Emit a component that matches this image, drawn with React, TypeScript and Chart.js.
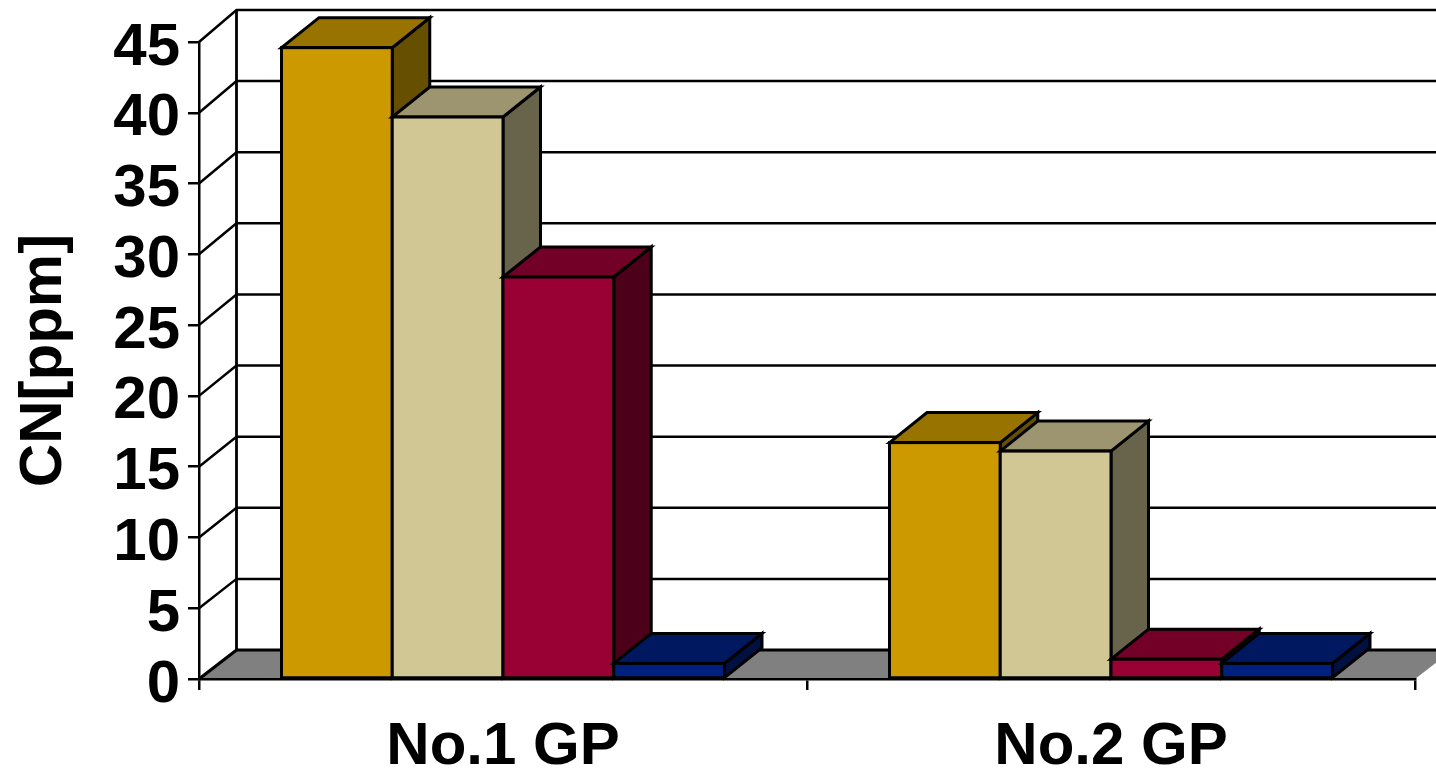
import React, { useEffect, useRef } from "react";
import { Chart, registerables } from "chart.js";

Chart.register(...registerables);

const categories = ["No.1 GP", "No.2 GP"];
const seriesA = [44.6, 16.7];
const seriesB = [39.7, 16.1];
const seriesC = [28.4, 1.4];
const seriesD = [1.1, 1.1];
const yTickStep = 5;
const yMax = 45;
const yTitle = "CN[ppm]";

const FONT = "'Liberation Sans', Arial, sans-serif";
const DX = 37.5;
const DY = 30;
const wallDy = (v: number) => 29 + (3 * v) / yMax;

const faces = [
  { front: "#CC9900", top: "#997300", side: "#665000" },
  { front: "#D0C795", top: "#9C9570", side: "#68634B" },
  { front: "#990033", top: "#730026", side: "#4D001A" },
  { front: "#002080", top: "#001860", side: "#001040" },
];

const depthPlugin = {
  id: "depth",
  beforeDraw(chart: any) {
    const { ctx, chartArea: a } = chart;
    const y = chart.scales.y;
    const x0 = a.left;
    const x1 = a.right;
    const y0 = y.getPixelForValue(0);
    ctx.save();
    ctx.fillStyle = "#808080";
    ctx.beginPath();
    ctx.moveTo(x0, y0);
    ctx.lineTo(x0 + DX, y0 - wallDy(0));
    ctx.lineTo(x1 + DX, y0 - wallDy(0));
    ctx.lineTo(x1, y0);
    ctx.closePath();
    ctx.fill();
    ctx.strokeStyle = "#000";
    for (let v = 0; v <= yMax; v += yTickStep) {
      const p = y.getPixelForValue(v);
      const py = p - wallDy(v);
      ctx.lineWidth = v === 0 ? 3.2 : 2.5;
      ctx.beginPath();
      ctx.moveTo(x0, p);
      ctx.lineTo(x0 + DX, py);
      ctx.lineTo(x1 + DX, py);
      ctx.stroke();
    }
    ctx.lineWidth = 2.8;
    ctx.beginPath();
    ctx.moveTo(x0 + DX, y.getPixelForValue(yMax) - wallDy(yMax));
    ctx.lineTo(x0 + DX, y0 - wallDy(0));
    ctx.stroke();
    ctx.restore();
  },
  beforeDatasetsDraw(chart: any) {
    const { ctx } = chart;
    ctx.save();
    ctx.strokeStyle = "#000";
    ctx.lineWidth = 3;
    ctx.lineJoin = "miter";
    chart.data.datasets.forEach((_: any, i: number) => {
      const f = faces[i];
      chart.getDatasetMeta(i).data.forEach((bar: any) => {
        const p = bar.getProps(["x", "y", "base", "width"], true);
        const l = p.x - p.width / 2;
        const r = p.x + p.width / 2;
        const t = p.y;
        const b = p.base;
        ctx.fillStyle = f.side;
        ctx.beginPath();
        ctx.moveTo(r, t);
        ctx.lineTo(r + DX, t - DY);
        ctx.lineTo(r + DX, b - DY);
        ctx.lineTo(r, b);
        ctx.closePath();
        ctx.fill();
        ctx.stroke();
        ctx.fillStyle = f.top;
        ctx.beginPath();
        ctx.moveTo(l, t);
        ctx.lineTo(l + DX, t - DY);
        ctx.lineTo(r + DX, t - DY);
        ctx.lineTo(r, t);
        ctx.closePath();
        ctx.fill();
        ctx.stroke();
        bar.draw(ctx);
        ctx.strokeRect(l, t, r - l, b - t);
      });
    });
    ctx.restore();
    return false;
  },
};

export default function App() {
  const ref = useRef<HTMLCanvasElement>(null);
  useEffect(() => {
    const series = [seriesA, seriesB, seriesC, seriesD];
    const chart = new Chart(ref.current!, {
      type: "bar",
      data: {
        labels: categories,
        datasets: series.map((data, i) => ({
          label: "S" + (i + 1),
          data,
          backgroundColor: faces[i].front,
          borderWidth: 0,
          categoryPercentage: 0.7286,
          barPercentage: 1,
        })),
      },
      options: {
        responsive: false,
        animation: false,
        layout: { padding: { top: 42, right: 21, left: 0, bottom: 0 } },
        plugins: { legend: { display: false }, title: { display: false }, tooltip: { enabled: false } },
        scales: {
          x: {
            afterFit: (s: any) => { s.height = 94; },
            border: { display: true, color: "#000", width: 2.5 },
            grid: { drawOnChartArea: false, drawTicks: true, tickLength: 11, color: "#000", lineWidth: 2.5 },
            ticks: { color: "#000", padding: 21, maxRotation: 0, font: { family: FONT, size: 60, weight: "bold" } },
          },
          y: {
            min: 0,
            max: yMax,
            afterFit: (s: any) => { s.width = 199; },
            border: { display: true, color: "#000", width: 2.5 },
            grid: { drawOnChartArea: false, drawTicks: true, tickLength: 11, color: "#000", lineWidth: 2.5 },
            ticks: { color: "#000", stepSize: yTickStep, padding: 8, labelOffset: 6, autoSkip: false, font: { family: FONT, size: 60, weight: "bold", lineHeight: 1 } },
            title: { display: true, text: yTitle, color: "#000", padding: { top: 8, bottom: 0 }, font: { family: FONT, size: 60, weight: "bold" } },
          },
        },
      } as any,
      plugins: [depthPlugin as any],
    });
    return () => chart.destroy();
  }, []);
  return (
    <canvas
      ref={ref}
      width={1436}
      height={773}
      style={{ position: "absolute", left: 0, top: 0, width: 1436, height: 773, display: "block" }}
    />
  );
}
